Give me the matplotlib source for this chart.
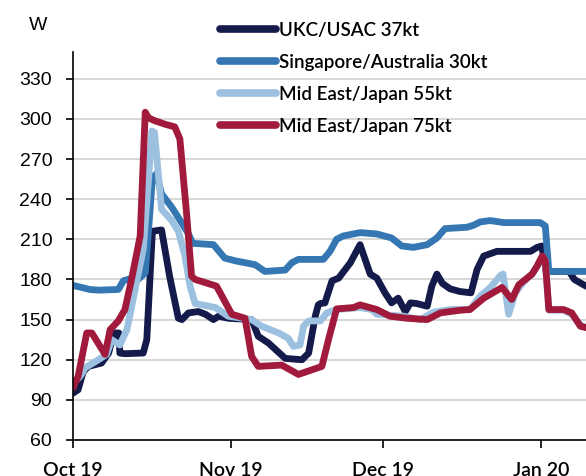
import matplotlib as mpl
mpl.use('Agg')
import matplotlib.pyplot as plt
import pandas as pd

# days counted from 1 Oct 2019
start = pd.Timestamp("2019-10-01")

ukc_day = [0, 1, 2, 3, 5.6, 7, 8, 9, 9.2, 10.2, 13.8, 14.5, 15.6, 17.4, 19, 20.7, 21.4, 22.7,
           24.6, 26, 27.6, 28.6, 30.5, 35.1, 36.4, 38.4, 41.7, 45, 46.3, 47.6, 48.2, 48.6,
           49.5, 50.9, 52.2, 54.5, 56.4, 57.4, 58.4, 59.7, 61.3, 62.6, 63.9, 65.3, 66.3,
           67.5, 69.6, 70.5, 71.5, 72.6, 74.1, 76, 78.2, 79.4, 80.7, 83.3, 89.9, 91.2, 92.1,
           93, 97.5, 98.5, 100.8]
ukc_val = [95, 97.5, 111, 115, 117.5, 125, 140, 140, 125, 124.5, 125, 135, 216, 217, 182, 151,
           150, 155, 156, 154, 150, 152.5, 151, 150, 137.5, 132.5, 121, 120, 125, 152.5, 161,
           162, 162.5, 179, 181, 192.5, 206, 195, 184, 181, 170, 162.5, 166, 156, 162.5, 162,
           160, 175, 184, 177, 173, 171, 170, 187.5, 197.5, 201, 201, 204, 205, 186, 186,
           180, 175]

sing_day = [0, 1.7, 3.3, 5, 8.9, 9.9, 11.2, 12.8, 14.2, 15.1, 15.6, 16.4, 17.4, 19.4, 21.4,
            22.7, 23.5, 27.6, 29.8, 31.8, 35.8, 37.7, 41.7, 43, 44.3, 49.2, 50.5, 51.8, 53.1,
            56.4, 59.7, 62.6, 64.6, 66.9, 69.6, 71.5, 73.1, 77.4, 78.7, 80, 82, 84.6, 91.8,
            92.8, 93.5, 100.8]
sing_val = [175.5, 174, 172.5, 172, 172.5, 179, 180.5, 180, 185, 230, 256, 259, 244, 234, 222,
            214, 207, 206, 196, 194, 191, 186, 187, 192.5, 195, 195, 201, 210, 212.5, 215, 214,
            211, 205, 204, 206, 211, 218, 219, 220.5, 223, 224, 222.5, 222.5, 220, 186, 186]

me55_day = [0, 1.4, 2.4, 5, 6.6, 7.6, 9.2, 10.6, 12.2, 13.8, 14.8, 15.5, 16, 16.8, 17.4, 19.4,
            20.7, 22, 23, 24, 28, 30.5, 35.1, 37.1, 40.4, 42.3, 43.3, 44.6, 45.3, 46.3, 48.6,
            49.9, 51.8, 56.4, 58.7, 59.7, 65, 68.2, 70.8, 74.1, 78, 80, 82, 84, 84.5, 85.6,
            86.9, 88.5, 90.2, 91.2, 92.2, 92.8, 93.5, 96.4, 98, 99.7, 100.8]
me55_val = [102.5, 107.5, 114, 120, 124, 135, 131, 142.5, 172.5, 202.5, 252.5, 291, 290, 257.5,
            232.5, 224, 216, 197.5, 175, 162, 159, 152.5, 150, 145, 140, 136, 130, 131, 145,
            149, 149, 155, 157.5, 159, 157.5, 154, 152.5, 150, 155.5, 157.5, 157.5, 167.5, 174,
            183, 184, 154, 170, 178, 184, 190, 197, 194, 157, 157, 154, 146, 144]

me75_day = [0, 1, 2.7, 3.7, 6.3, 7.3, 8.9, 10.2, 11.5, 13.2, 14.2, 14.8, 15.8, 18.1, 20, 21,
            22.3, 23.3, 24, 28.2, 31.2, 33.8, 35.1, 36.4, 41, 44.3, 48.9, 50.2, 51.8, 55.1,
            56.4, 59.7, 62.3, 65.6, 69.6, 72.2, 74.1, 76.1, 78, 80.7, 84.3, 86.2, 87.6, 90.2,
            91.2, 92.2, 92.8, 93.5, 96.4, 98, 99.7, 100.8]
me75_val = [99, 107.5, 140, 140, 124, 142.5, 149, 157.5, 180, 212.5, 305, 301, 299, 296,
            294, 285, 230, 182.5, 180, 175, 154, 151, 122.5, 115, 116, 109, 115, 135, 158, 159,
            161, 157.5, 152.5, 151, 150, 155, 156, 157, 157.5, 166, 174, 165, 176, 184, 190,
            197.5, 194, 157.5, 157.5, 155, 145, 144]

series = [
    ("UKC/USAC 37kt", ukc_day, ukc_val, "#141b4a"),
    ("Singapore/Australia 30kt", sing_day, sing_val, "#3577b2"),
    ("Mid East/Japan 55kt", me55_day, me55_val, "#9cc0e0"),
    ("Mid East/Japan 75kt", me75_day, me75_val, "#a11a3b"),
]

month_ticks = ["2019-10-01", "2019-11-01", "2019-12-01", "2020-01-01"]
month_labels = ["Oct 19", "Nov 19", "Dec 19", "Jan 20"]
y_ticks = [60, 90, 120, 150, 180, 210, 240, 270, 300, 330]

fig = plt.figure(figsize=(5.86, 4.76), dpi=100)
ax = fig.add_axes([73 / 586, 36 / 476, 1 - 73 / 586, (440 - 52) / 476])

for name, days, vals, col in series:
    x = start + pd.to_timedelta(days, unit="D")
    ax.plot(x, vals, color=col, lw=4.9, label=name,
            solid_joinstyle="round", solid_capstyle="round")

ax.set_ylim(60, 350)
ax.set_xlim(start, start + pd.Timedelta(days=100.8))
ax.set_yticks(y_ticks)
ax.set_xticks(pd.to_datetime(month_ticks))
ax.set_xticklabels(month_labels)
ax.grid(axis="y", color="#d4d4d4", lw=1.3)
ax.set_axisbelow(True)
for s in ["top", "right"]:
    ax.spines[s].set_visible(False)
ax.spines["left"].set_linewidth(1.2)
ax.spines["bottom"].set_linewidth(1.2)
ax.tick_params(axis="y", length=5, width=1.2, pad=10, labelsize=14)
ax.tick_params(axis="x", length=6, width=1.2, pad=10, labelsize=14)
for lab in ax.get_yticklabels():
    lab.set_fontfamily("Liberation Sans")
for lab in ax.get_xticklabels():
    lab.set_fontfamily("Lato")
    lab.set_fontweight("semibold")

fig.text(38.5 / 586, 1 - 25 / 476, "W", fontsize=14, family="Liberation Sans",
         ha="center", va="center")

leg = ax.legend(loc="upper left", bbox_to_anchor=(220 / 586, 1 - 22 / 476),
                bbox_transform=fig.transFigure, frameon=False, borderpad=0,
                borderaxespad=0, handlelength=3.0, handletextpad=0.15,
                labelspacing=0.8,
                prop={"family": "Lato", "size": 13.5, "weight": "semibold"})
for h in leg.get_lines():
    h.set_linewidth(5.5)
    h.set_solid_capstyle("round")

fig.savefig("out.png", dpi=100)
